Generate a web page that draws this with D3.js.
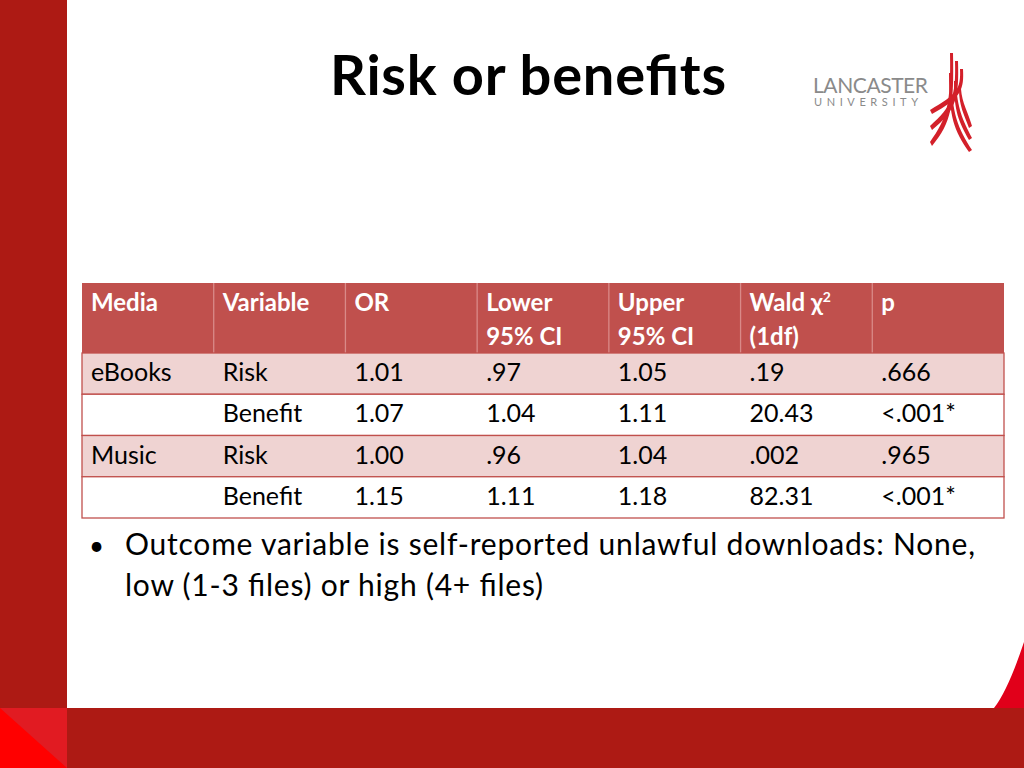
<!DOCTYPE html>
<html><head><meta charset="utf-8">
<script src="https://cdn.jsdelivr.net/npm/d3@7"></script>
<style>body{margin:0;background:#fff}svg{display:block}</style>
</head><body>
<script>
const columns = ['Media', 'Variable', 'OR', 'Lower\n95% CI', 'Upper\n95% CI', 'Wald χ²\n(1df)', 'p'];
const media = ['eBooks', '', 'Music', ''];
const variables = ['Risk', 'Benefit', 'Risk', 'Benefit'];
const oddsRatio = ['1.01', '1.07', '1.00', '1.15'];
const lowerCI = ['.97', '1.04', '.96', '1.11'];
const upperCI = ['1.05', '1.11', '1.04', '1.18'];
const wald = ['.19', '20.43', '.002', '82.31'];
const pValues = ['.666', '<.001*', '.965', '<.001*'];

const rows = media.map((m, i) => [m, variables[i], oddsRatio[i], lowerCI[i], upperCI[i], wald[i], pValues[i]]);
const font = 'Lato, "Open Sans", sans-serif';

const svg = d3.select('body').append('svg').attr('width', 1024).attr('height', 768);

// slide frame
svg.append('rect').attr('width', 67).attr('height', 768).attr('fill', '#ad1a14');
svg.append('rect').attr('y', 708).attr('width', 1024).attr('height', 60).attr('fill', '#ad1a14');
svg.append('rect').attr('y', 708).attr('width', 67).attr('height', 60).attr('fill', '#e11b22');
svg.append('path').attr('d', 'M0,708 L67,768 L0,768Z').attr('fill', '#ff0000');
svg.append('path').attr('d', 'M1024,642 Q1008,690 994,708 L1024,708Z').attr('fill', '#e1001a');

svg.append('text').attr('x', 528).attr('y', 95).attr('text-anchor', 'middle')
  .attr('font-family', font).attr('font-weight', 'bold').attr('font-size', 56)
  .attr('textLength', 396).text('Risk or benefits');

// logo
const logo = svg.append('g');
logo.append('text').attr('x', 813).attr('y', 93).attr('font-family', font).attr('font-size', 21)
  .attr('fill', '#8a8a8a').attr('textLength', 115).text('LANCASTER');
logo.append('text').attr('x', 814).attr('y', 106).attr('font-family', font).attr('font-size', 11)
  .attr('fill', '#8a8a8a').attr('letter-spacing', 4.6).text('UNIVERSITY');
[0, 1, 2].forEach(k => {
  const sx = 950 + k * 5, sy = 53 + k * 8;
  logo.append('path')
    .attr('d', `M${sx},${sy} C${sx + 1},${105 - k * 8} ${sx - 3},${118 - k * 12} ${930},${142 - k * 16} L${932},${146 - k * 16} C${sx + 2},${122 - k * 12} ${sx + 4},${105 - k * 8} ${sx + 3},${sy}Z`)
    .attr('fill', '#d3202a');
  logo.append('path')
    .attr('d', `M${sx + 1},${sy + 20} C${sx + 2},${115 - k * 6} ${sx + 8},${128 - k * 8} ${972},${150 - k * 12} L${969},${152 - k * 12} C${sx + 4},${130 - k * 8} ${sx - 1},${118 - k * 6} ${sx - 1},${sy + 20}Z`)
    .attr('fill', '#d3202a');
});

// table
const x = d3.scaleBand().domain(d3.range(columns.length)).range([82, 1004]);
const headerTop = 283, headerH = 70, rowH = 41.25;
const y = d3.scaleBand().domain(d3.range(rows.length)).range([headerTop + headerH, headerTop + headerH + rowH * rows.length]);

svg.append('rect').attr('x', 82).attr('y', headerTop).attr('width', 922).attr('height', headerH).attr('fill', '#c0504d');
svg.selectAll('line.vsep').data(d3.range(1, columns.length)).join('line').attr('class', 'vsep')
  .attr('x1', d => x(d)).attr('x2', d => x(d)).attr('y1', headerTop).attr('y2', headerTop + headerH)
  .attr('stroke', '#d98a88').attr('stroke-width', 1.3);
svg.selectAll('rect.row').data(rows).join('rect').attr('class', 'row')
  .attr('x', 82).attr('y', (d, i) => y(i)).attr('width', 922).attr('height', y.bandwidth())
  .attr('fill', (d, i) => i % 2 ? '#ffffff' : '#efd3d2')
  .attr('stroke', '#c0504d').attr('stroke-width', 1.3);

columns.forEach((c, j) => {
  const t = svg.append('text').attr('font-family', font).attr('font-size', 24).attr('font-weight', 'bold').attr('fill', '#fff');
  c.split('\n').forEach((line, k) => {
    const ts = t.append('tspan').attr('x', x(j) + 9).attr('y', headerTop + 28 + k * 34);
    if (line.includes('²')) {
      ts.text(line.replace('²', ''));
      t.append('tspan').attr('font-size', 14).attr('dy', -9).text('2');
    } else ts.text(line);
  });
});

rows.forEach((r, i) => r.forEach((v, j) => {
  svg.append('text').attr('x', x(j) + 9).attr('y', y(i) + 28).attr('font-family', font)
    .attr('font-size', 25).attr('fill', '#000').text(v);
}));

// bullet
svg.append('text').attr('x', 89).attr('y', 555).attr('font-family', font).attr('font-size', 26).text('•');
svg.append('text').attr('x', 125).attr('y', 555).attr('font-family', font).attr('font-size', 30)
  .attr('textLength', 850).text('Outcome variable is self-reported unlawful downloads: None,');
svg.append('text').attr('x', 125).attr('y', 596).attr('font-family', font).attr('font-size', 30)
  .attr('textLength', 418).text('low (1-3 files) or high (4+ files)');
</script>
</body></html>
